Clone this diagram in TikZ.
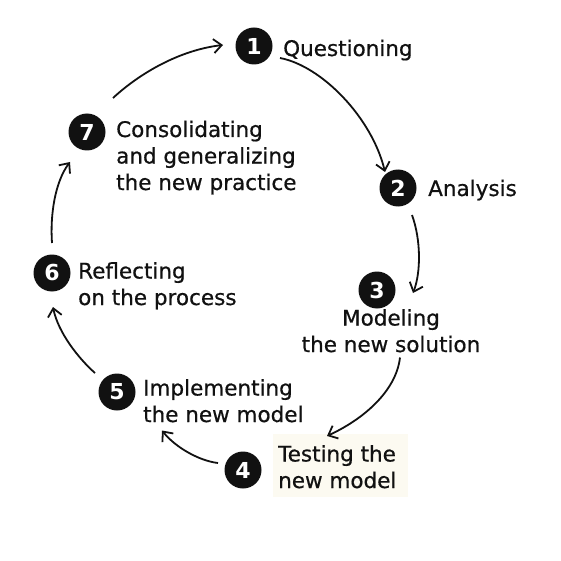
\documentclass[tikz,border=0pt]{standalone}
\usepackage{fontspec}
\setmainfont{DejaVu Sans}
\newfontfamily\lblfont[BoldFont={DejaVu Sans},BoldFeatures={FakeBold=0.6}]{DejaVu Sans}
\usetikzlibrary{arrows.meta}
\definecolor{ink}{HTML}{111111}
\definecolor{cream}{HTML}{FCFAF1}
\tikzset{
  num/.style={circle, fill=ink, text=white, minimum size=37pt, inner sep=0pt,
    font=\bfseries\fontsize{22}{22}\selectfont},
  lbl/.style={anchor=base west, inner sep=0pt, text=ink, align=left,
    font=\lblfont\bfseries\fontsize{21.5}{26.5}\selectfont},
  conn/.style={draw=ink, line width=1.8pt, -{Straight Barb[length=8pt,width=14pt]}}
}
\begin{document}
\begin{tikzpicture}[x=1pt,y=-1pt]
\useasboundingbox (0,0) rectangle (561,561);
% numbered circles
\node[num] (c1) at (254,46) {1};
\node[num] (c2) at (398,188) {2};
\node[num] (c3) at (377,290) {3};
\node[num] (c4) at (243,470) {4};
\node[num] (c5) at (117,392) {5};
\node[num] (c6) at (52,273) {6};
\node[num] (c7) at (87,132) {7};
% labels (multi-line nodes are placed by the baseline of their last line)
\node[lbl] (t1) at (283,56) {Questioning};
\node[lbl] (t2) at (428,196) {Analysis};
\node[lbl, anchor=base, align=center] (t3) at (391,352) {Modeling\\the new solution};
\fill[cream] (273,434) rectangle (408,497);
\node[lbl] (t4) at (278,488) {Testing the\\new model};
\node[lbl] (t5) at (143,422) {Implementing\\the new model};
\node[lbl] (t6) at (78,305) {Reflecting\\on the process};
\node[lbl] (t7) at (116,190) {Consolidating\\and generalizing\\the new practice};
% connectors
\draw[conn] ([shift={(26,-34)}]c7.center) .. controls (140,73) and (180,50) .. ([shift={(-31,-1)}]c1.center);
\draw[conn] ([shift={(26,12)}]c1.center) .. controls (322,66) and (372,118) .. ([shift={(-13,-16)}]c2.center);
\draw[conn] ([shift={(14,27)}]c2.center) .. controls (421,240) and (421,272) .. ([shift={(36,3)}]c3.center);
\draw[conn] ([shift={(9,5)}]t3.south) .. controls (396,392) and (362,420) .. ([shift={(49,-9)}]t4.north west);
\draw[conn] ([shift={(-25,-7)}]c4.center) .. controls (200,461) and (176,448) .. ([shift={(19,8)}]t5.south west);
\draw[conn] ([shift={(-22,-19)}]c5.center) .. controls (78,358) and (58,332) .. ([shift={(1,34)}]c6.center);
\draw[conn] ([shift={(0,-30)}]c6.center) .. controls (50,215) and (55,182) .. ([shift={(-17,30)}]c7.center);
\end{tikzpicture}
\end{document}
